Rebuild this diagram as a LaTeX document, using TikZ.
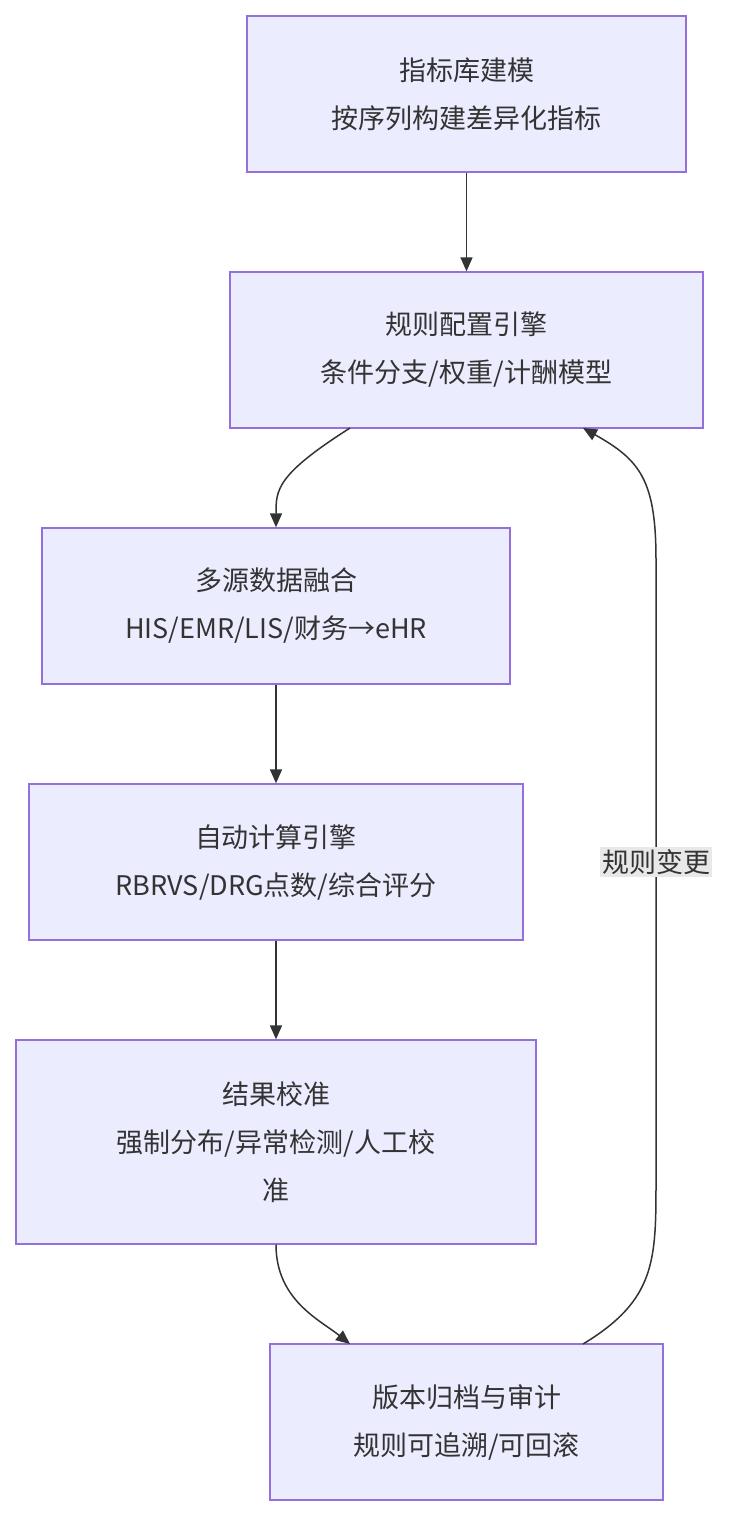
\documentclass[tikz,border=0pt]{standalone}
\usepackage{fontspec}
\setmainfont{Noto Sans CJK SC}
\usetikzlibrary{arrows.meta}
\begin{document}
\begin{tikzpicture}[x=1pt,y=-1pt,
  box/.style={draw=violet!60!blue!70, fill={rgb,255:red,236;green,236;blue,255}, line width=1.3pt, align=center, font=\fontsize{27}{48}\selectfont, text={rgb,255:red,51;green,51;blue,51}, inner sep=0pt},
  arr/.style={draw={rgb,255:red,51;green,51;blue,51}, line width=1.5pt, -{Triangle[length=14pt,width=12pt]}}]
\useasboundingbox (0,0) rectangle (736,1516);
\colorlet{bd}{violet}
\definecolor{bd}{RGB}{147,112,219}
\tikzset{box/.append style={draw=bd}}
\node[box, minimum width=439pt, minimum height=156pt] (n1) at (466.5,94) {指标库建模\\按序列构建差异化指标};
\node[box, minimum width=473pt, minimum height=156pt] (n2) at (466.5,350) {规则配置引擎\\条件分支/权重/计酬模型};
\node[box, minimum width=468pt, minimum height=156pt] (n3) at (276,606) {多源数据融合\\HIS/EMR/LIS/财务→eHR};
\node[box, minimum width=494pt, minimum height=156pt] (n4) at (276,862) {自动计算引擎\\RBRVS/DRG点数/综合评分};
\node[box, minimum width=520pt, minimum height=204pt] (n5) at (276,1142) {结果校准\\强制分布/异常检测/人工校\\准};
\node[box, minimum width=393pt, minimum height=156pt] (n6) at (466.5,1422) {版本归档与审计\\规则可追溯/可回滚};
\draw[arr] (n1) -- (n2);
\draw[arr] (350,428) .. controls (276,475) and (276,490) .. (n3.north);
\draw[arr] (n3) -- (n4);
\draw[arr] (n4) -- (n5);
\draw[arr] (n5.south) .. controls (276,1300) and (320,1320) .. (350,1344);
\draw[arr] (583,1344) .. controls (656,1300) and (656,1260) .. (656,1180) -- (656,560) .. controls (656,480) and (640,460) .. (583,428);
\node[fill={rgb,255:red,232;green,232;blue,232}, inner sep=2pt, font=\fontsize{27}{32}\selectfont, text={rgb,255:red,51;green,51;blue,51}] (lb) at (656,862) {规则变更};
\end{tikzpicture}
\end{document}
